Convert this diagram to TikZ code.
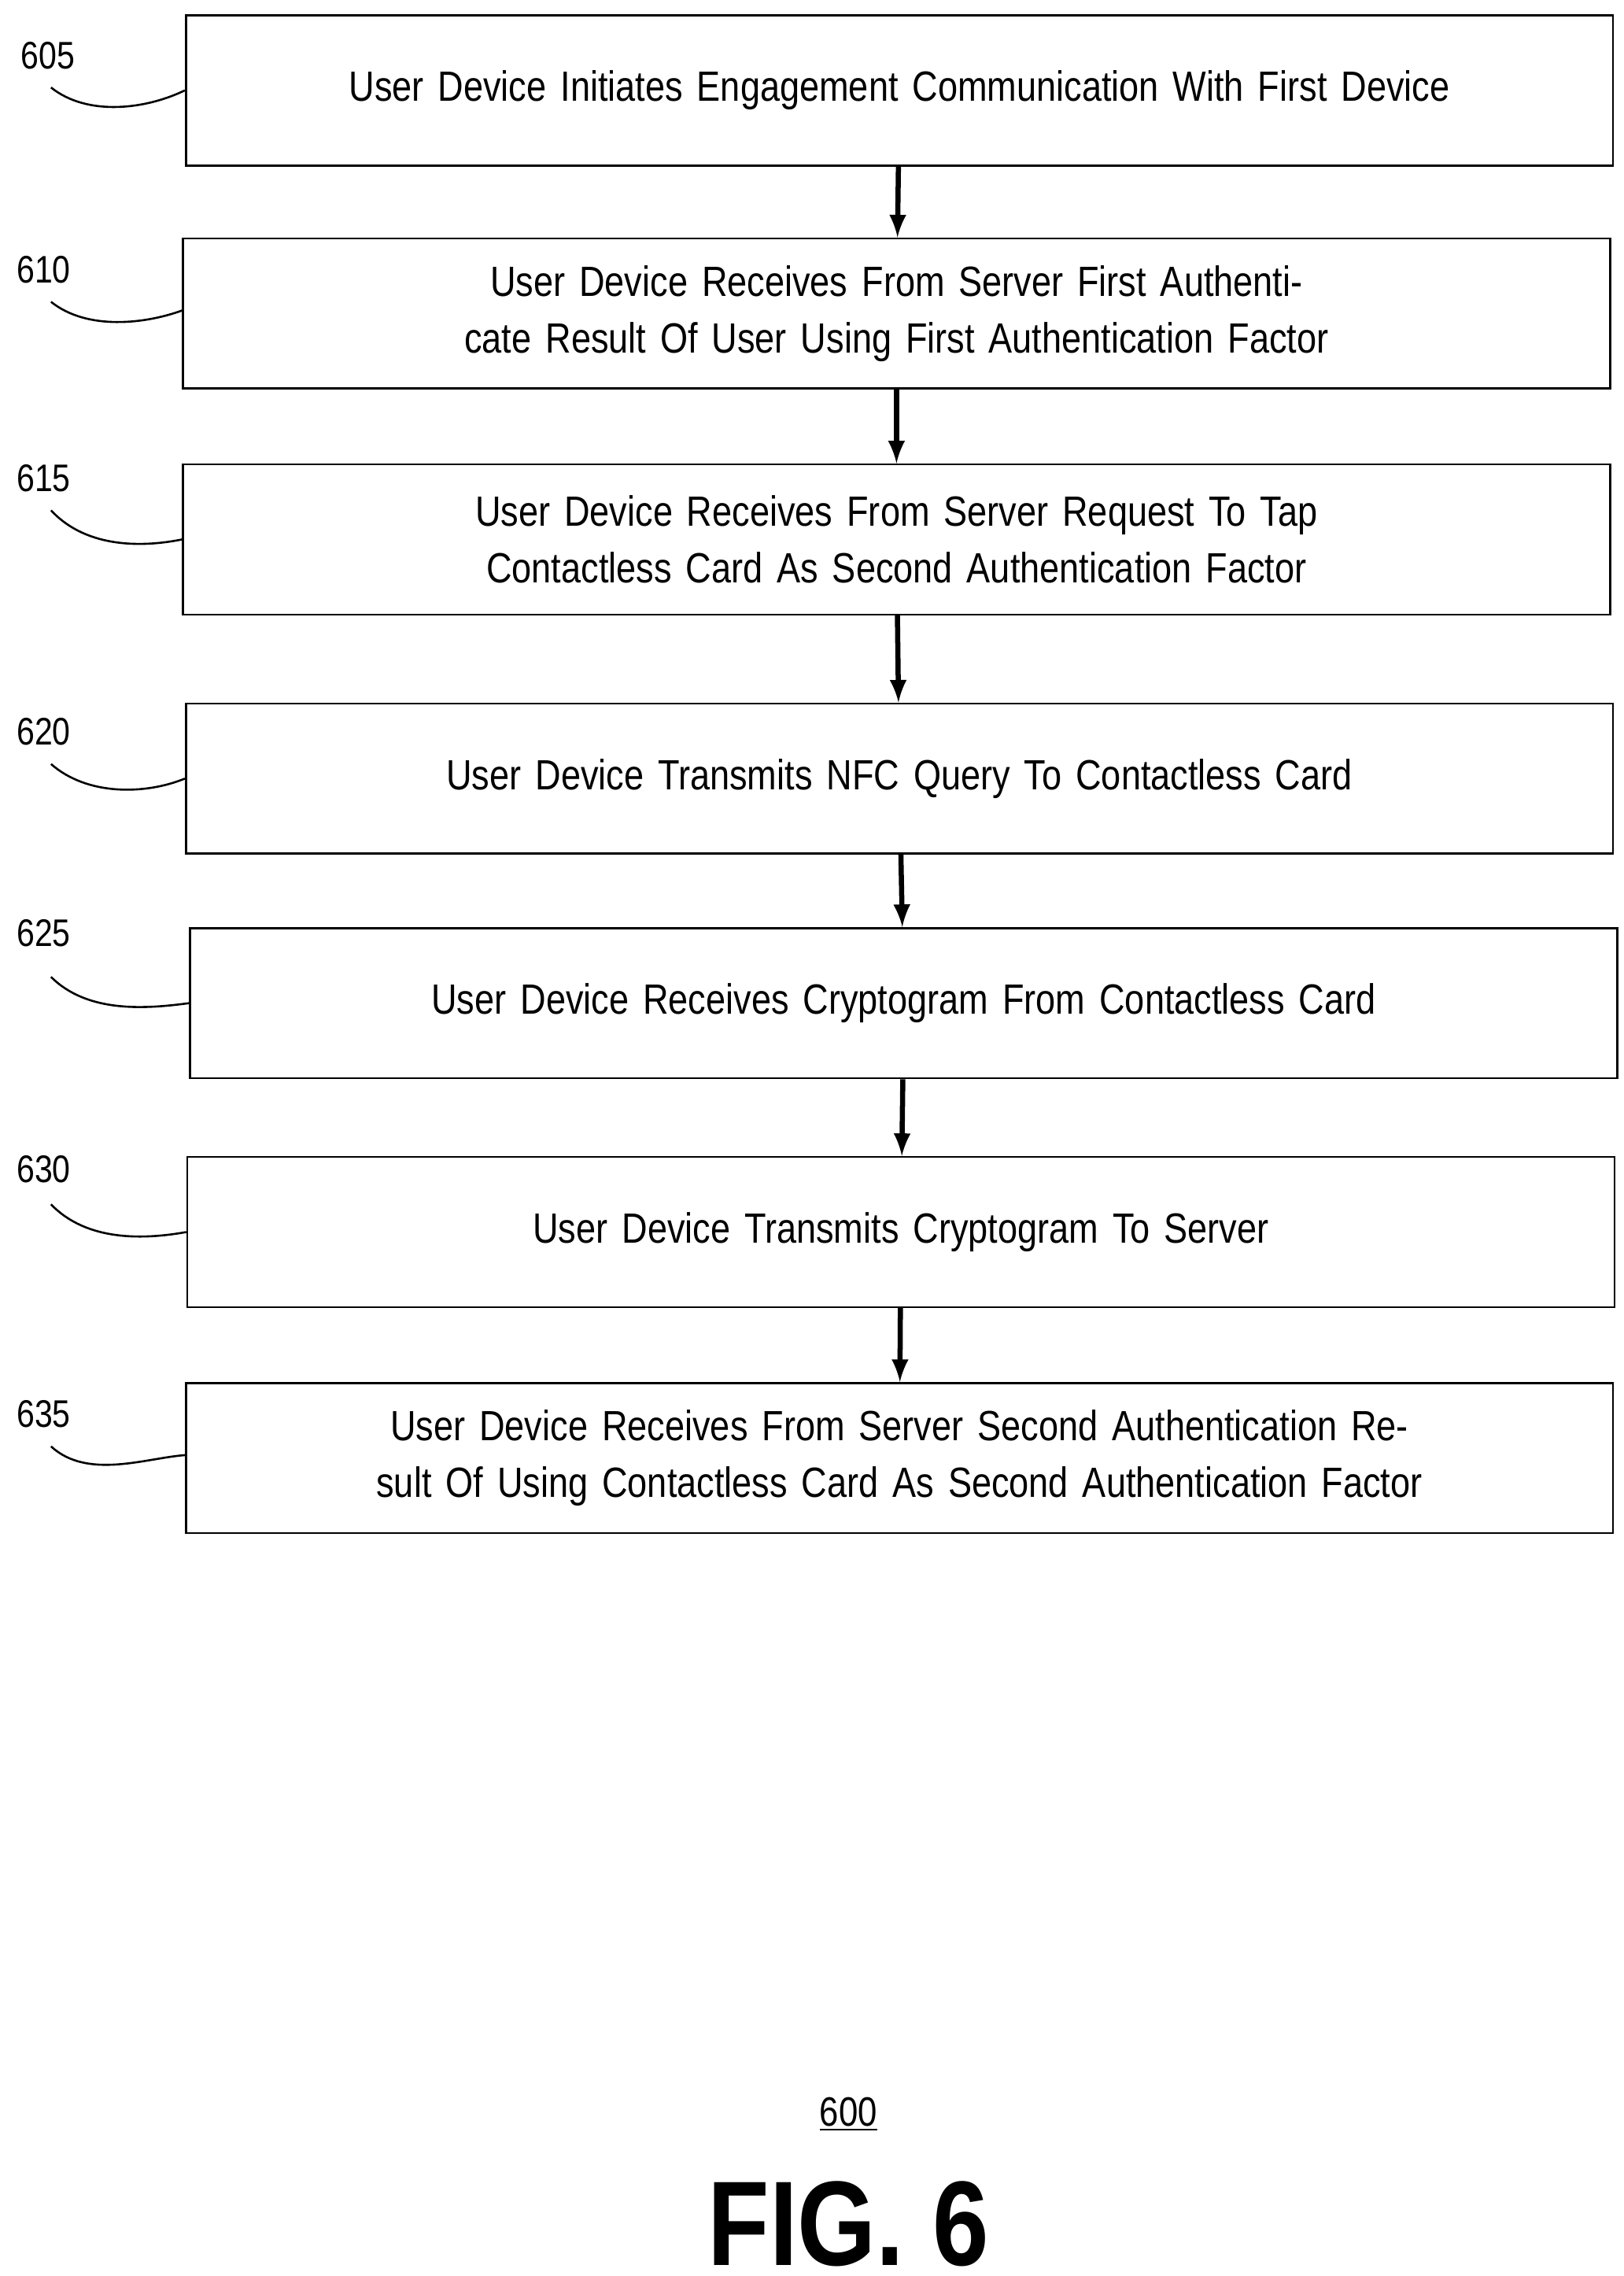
\documentclass[tikz,border=0pt]{standalone}
\usepackage{fontspec}
\setmainfont[FakeStretch=0.84]{Liberation Sans}
\usetikzlibrary{positioning}
\tikzset{
  stepbox/.style={draw,line width=0.8pt,minimum width=19.4cm,minimum height=2.06cm,
    text width=19.35cm,align=center,font=\fontsize{16.5}{22}\selectfont},
  tag/.style={font=\fontsize{15}{18}\selectfont},
  flow/.style={->,line width=2pt,>=latex},
  lead/.style={line width=0.8pt}
}
\begin{document}
\begin{tikzpicture}[x=0.02cm,y=-0.02cm]
   \useasboundingbox (0,0) rectangle (1114,1561);
   \node[stepbox] (s605) at (617,62) {User Device Initiates Engagement Communication With First Device};
   \node[stepbox] (s610) at (615,215) {User Device Receives From Server First Authenticate Result Of User Using First Authentication Factor};
   \node[stepbox] (s615) at (615,370) {User Device Receives From Server Request To Tap Contactless Card As Second Authentication Factor};
   \node[stepbox] (s620) at (617,534) {User Device Transmits NFC Query To Contactless Card};
   \node[stepbox] (s625) at (620,688) {User Device Receives Cryptogram From Contactless Card};
   \node[stepbox] (s630) at (618,845) {User Device Transmits Cryptogram To Server};
   \node[stepbox] (s635) at (617,1000) {User Device Receives From Server Second Authentication Result Of Using Contactless Card As Second Authentication Factor};

   \draw[flow] (s605) -- (s610);
   \draw[flow] (s610) -- (s615);
   \draw[flow] (s615) -- (s620);
   \draw[flow] (s620) -- (s625);
   \draw[flow] (s625) -- (s630);
   \draw[flow] (s630) -- (s635);

   % reference numerals
   \node[tag] (n605) at (33,38) {605};
   \node[tag] (n610) at (30,185) {610};
   \node[tag] (n615) at (30,328) {615};
   \node[tag] (n620) at (30,502) {620};
   \node[tag] (n625) at (30,640) {625};
   \node[tag] (n630) at (30,802) {630};
   \node[tag] (n635) at (30,970) {635};
   \draw[lead] (35,60) .. controls (60,80) and (100,75) .. (s605.west|-0,62);
   \draw[lead] (35,207) .. controls (60,227) and (100,222) .. (s610.west|-0,213);
   \draw[lead] (35,350) .. controls (60,377) and (100,375) .. (s615.west|-0,370);
   \draw[lead] (35,524) .. controls (60,546) and (100,545) .. (s620.west|-0,534);
   \draw[lead] (35,670) .. controls (60,695) and (100,692) .. (s625.west|-0,688);
   \draw[lead] (35,826) .. controls (60,852) and (100,850) .. (s630.west|-0,845);
   \draw[lead] (35,992) .. controls (60,1015) and (100,1000) .. (s635.west|-0,998);

   \node[tag,font=\fontsize{16}{18}\selectfont] (fnum) at (582,1450) {\underline{600}};
   \node[font=\bfseries\fontsize{47}{50}\selectfont] (fig) at (582,1525) {FIG. 6};
\end{tikzpicture}
\end{document}
